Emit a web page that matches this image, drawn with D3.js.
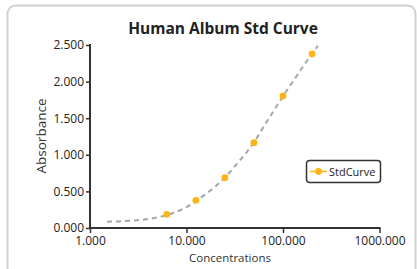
<!DOCTYPE html>
<html><head><meta charset="utf-8">
<script src="https://cdn.jsdelivr.net/npm/d3@7"></script>
<style>html,body{margin:0;padding:0;background:#fff;}svg{display:block;}</style>
</head><body>
<svg id="c" width="417" height="269"></svg>
<script>
const concentrations = [6.25, 12.5, 25, 50, 100, 200];
const absorbance = [0.187, 0.378, 0.687, 1.165, 1.803, 2.377];
const fitConc = [1.5, 2, 3, 4, 5, 6.25, 8, 10, 12.5, 16, 20, 25, 32, 40, 50, 64, 80, 100, 128, 160, 200, 230];
const fitAbs  = [0.086, 0.090, 0.105, 0.122, 0.145, 0.178, 0.225, 0.285, 0.365, 0.47, 0.57, 0.69, 0.85, 1.0, 1.17, 1.40, 1.60, 1.80, 2.01, 2.20, 2.38, 2.49];
const yTicks = [0, 0.5, 1.0, 1.5, 2.0, 2.5];
const xTicks = [1, 10, 100, 1000];
const title = "Human Album Std Curve";
const seriesName = "StdCurve";

const svg = d3.select("#c");
const font = "'Open Sans', sans-serif";
const orange = "#FDB515";

svg.append("rect").attr("x", 7.5).attr("y", 5.5).attr("width", 408).attr("height", 280)
  .attr("rx", 8).attr("fill", "#fff").attr("stroke", "#cfcfcf").attr("stroke-width", 2);

const x = d3.scaleLog().domain([1, 1000]).range([90, 379.5]);
const y = d3.scaleLinear().domain([0, 2.5]).range([228, 45]);

svg.append("text").attr("x", 223).attr("y", 33.5).attr("text-anchor", "middle")
  .attr("font-family", font).attr("font-weight", "bold").attr("font-size", 15.5)
  .attr("fill", "#222").text(title);

const fmt = d3.format(".3f");
const yAxis = svg.append("g").attr("transform", "translate(90,0)")
  .call(d3.axisLeft(y).tickValues(yTicks).tickFormat(fmt).tickSize(4).tickPadding(2));
const xAxis = svg.append("g").attr("transform", "translate(0,228)")
  .call(d3.axisBottom(x).tickValues(xTicks).tickFormat(fmt).tickSize(5).tickPadding(3));
[yAxis, xAxis].forEach(g => {
  g.select(".domain").attr("stroke", "#333").attr("stroke-width", 2);
  g.selectAll(".tick line").attr("stroke", "#333").attr("stroke-width", 1.5);
  g.selectAll("text").attr("font-family", font).attr("font-size", 12).attr("fill", "#222");
});
yAxis.select(".domain").attr("d", "M-0,44V229");
xAxis.select(".domain").attr("d", "M89,0H380.5");

svg.append("text").attr("transform", "translate(46,136) rotate(-90)").attr("text-anchor", "middle")
  .attr("font-family", font).attr("font-size", 13.5).attr("fill", "#333").text("Absorbance");
svg.append("text").attr("x", 230).attr("y", 262).attr("text-anchor", "middle")
  .attr("font-family", font).attr("font-size", 11.5).attr("fill", "#333").text("Concentrations");

const fit = fitConc.map((c, i) => [c, fitAbs[i]]);
svg.append("path").datum(fit)
  .attr("d", d3.line().x(d => x(d[0])).y(d => y(d[1])).curve(d3.curveMonotoneX))
  .attr("fill", "none").attr("stroke", "#a6a6a6").attr("stroke-width", 2).attr("stroke-dasharray", "5,4");

svg.selectAll("circle.pt").data(concentrations.map((c, i) => [c, absorbance[i]])).enter()
  .append("circle").attr("class", "pt").attr("cx", d => x(d[0])).attr("cy", d => y(d[1]))
  .attr("r", 3.4).attr("fill", orange);

const lg = svg.append("g").attr("transform", "translate(306,160)");
lg.append("rect").attr("x", 0.5).attr("y", 0.5).attr("width", 74).attr("height", 22).attr("rx", 3)
  .attr("fill", "#fff").attr("stroke", "#333").attr("stroke-width", 1.5);
lg.append("line").attr("x1", 4).attr("x2", 21).attr("y1", 11.5).attr("y2", 11.5)
  .attr("stroke", orange).attr("stroke-width", 1.5);
lg.append("circle").attr("cx", 12.5).attr("cy", 11.5).attr("r", 3.4).attr("fill", orange);
lg.append("text").attr("x", 23).attr("y", 15.5).attr("font-family", font).attr("font-size", 11)
  .attr("fill", "#222").text(seriesName);
</script>
</body></html>
